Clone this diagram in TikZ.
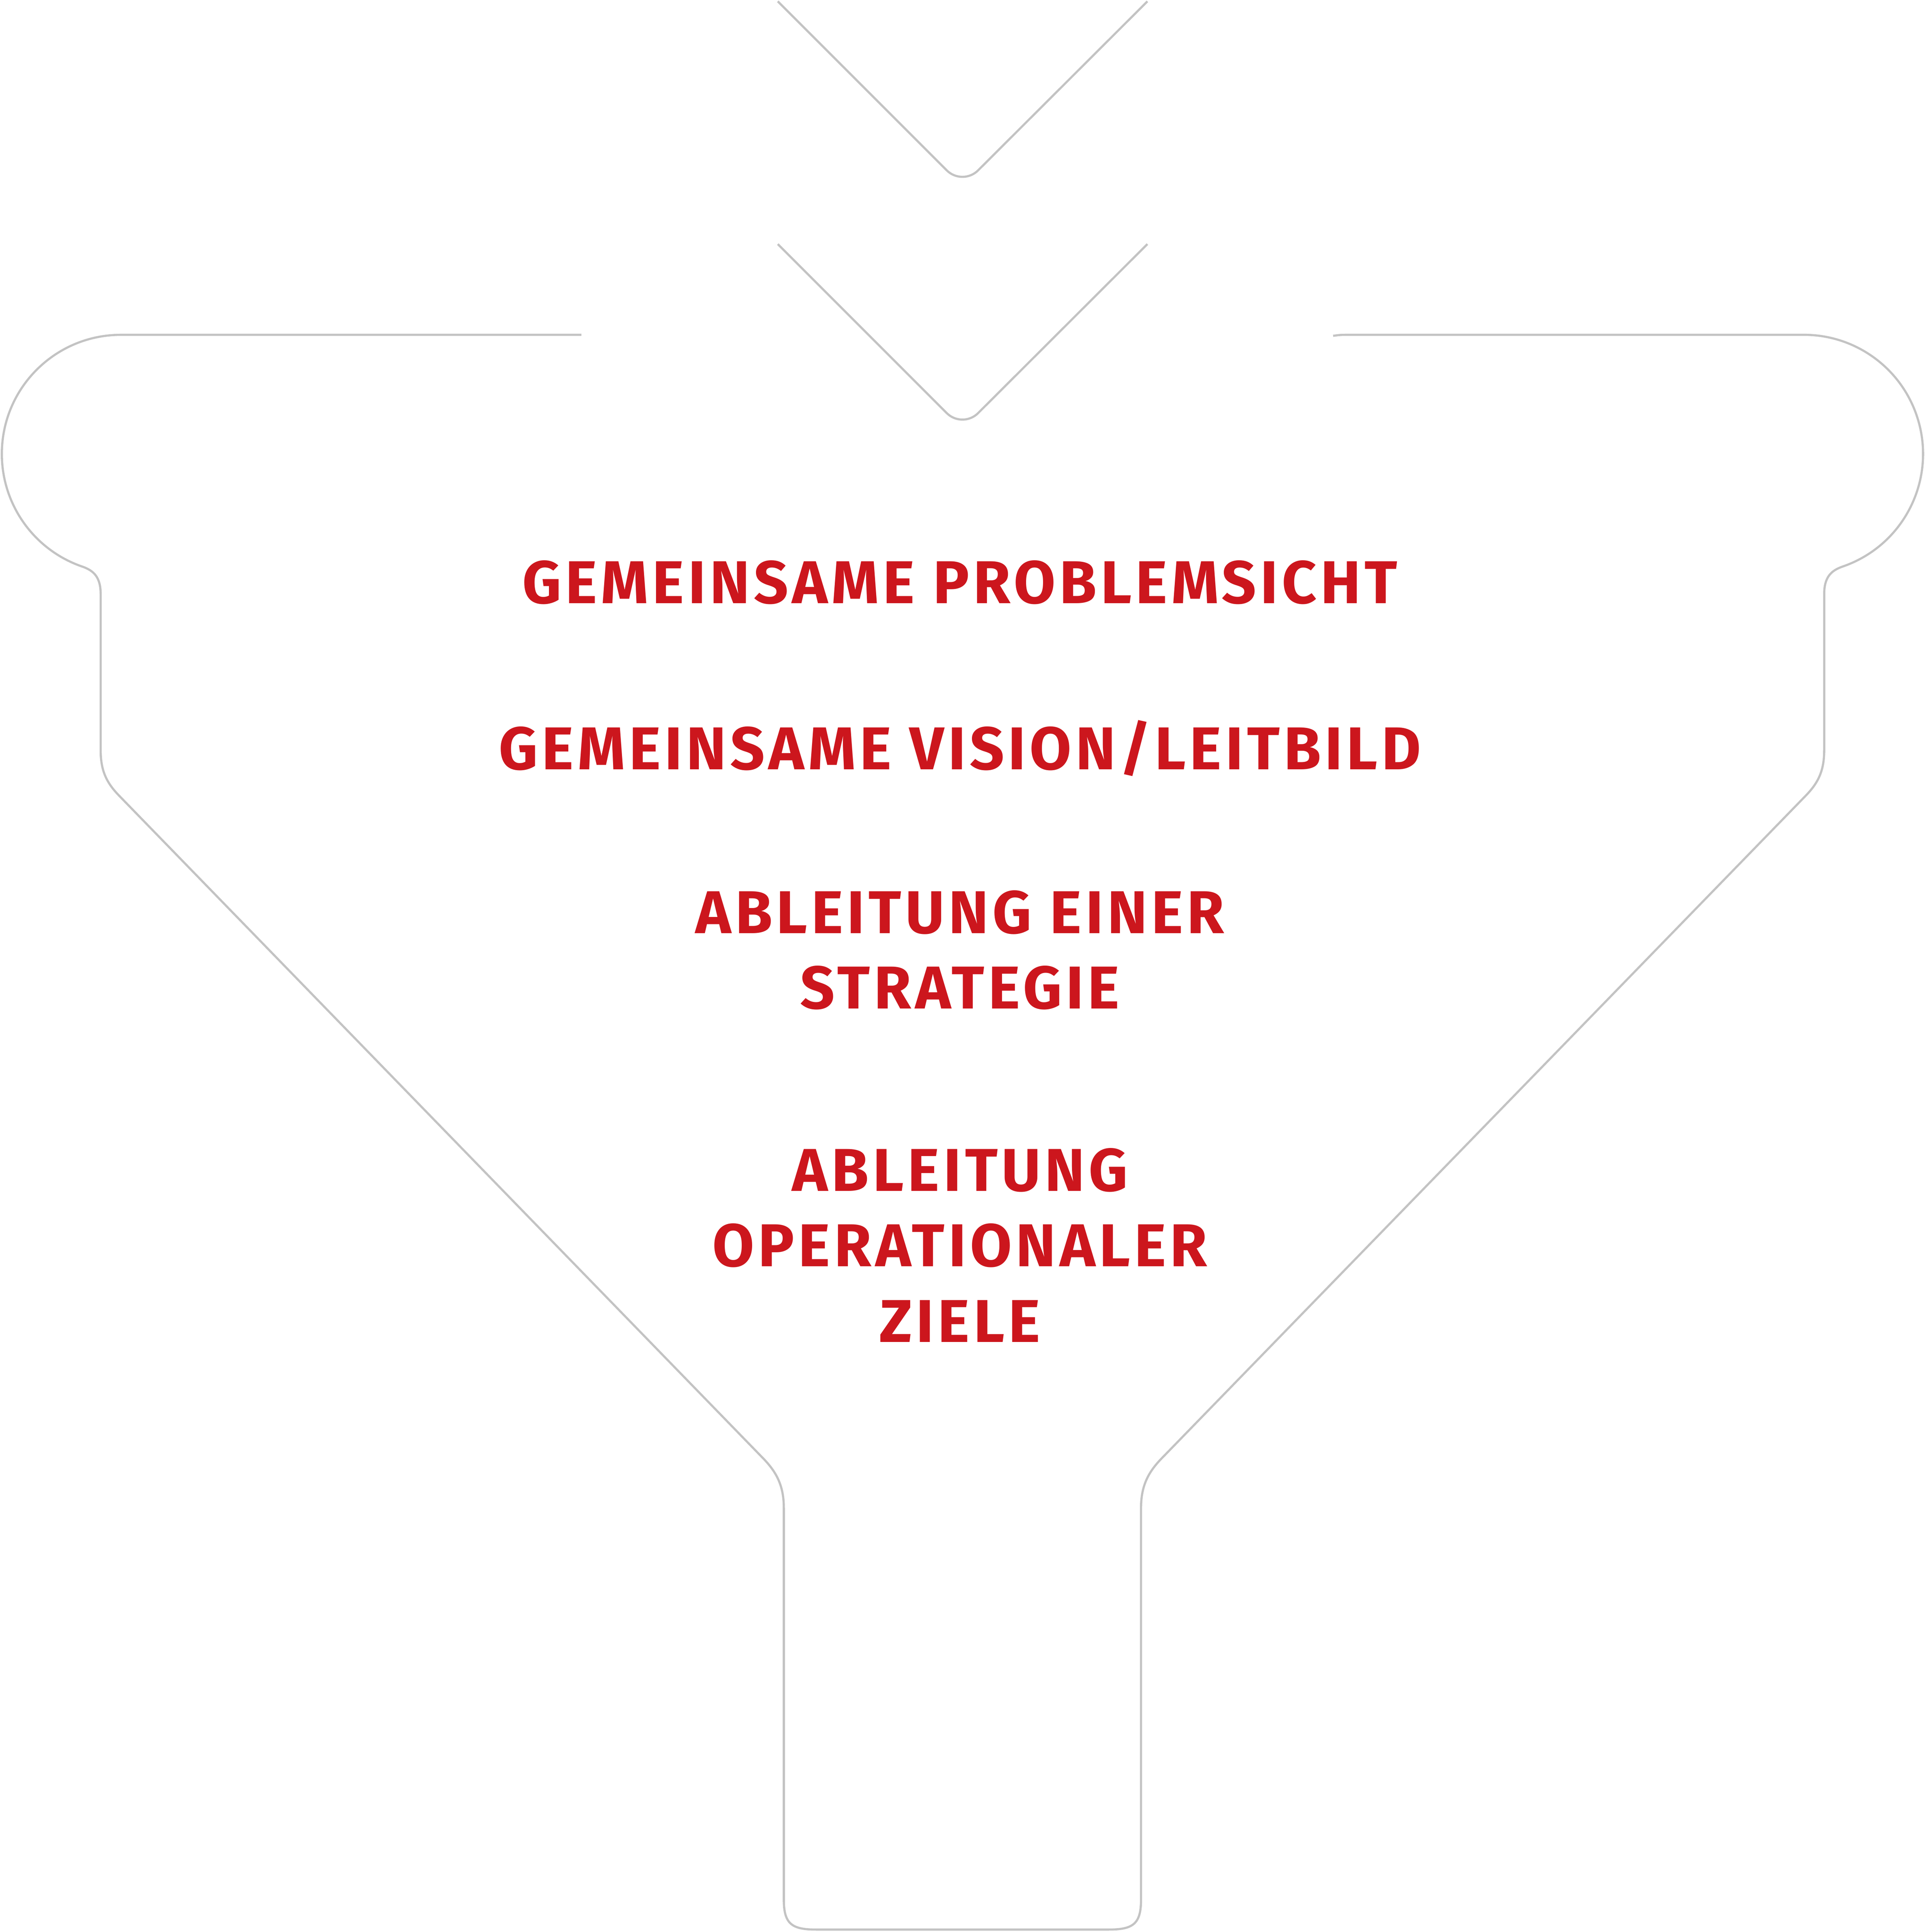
\documentclass[tikz,border=0pt]{standalone}
\usepackage{fontspec}
\setmainfont{Fira Sans}
\newfontfamily\stagefont{Fira Sans}[LetterSpace=6.5]
\definecolor{funnelgray}{RGB}{195,195,195}
\definecolor{stagered}{RGB}{204,22,29}
\begin{document}
\begin{tikzpicture}[x=0.01cm, y=-0.01cm,
    funnel/.style={draw=funnelgray, line width=0.5pt},
    stage/.style={text=stagered, anchor=base, inner sep=0pt, align=center,
      font=\stagefont\bfseries\fontsize{14}{17.5}\selectfont}]
  \useasboundingbox (0,0) rectangle (1568,1573.5); % Page frame

  % Two chevrons pointing down into the funnel
  \foreach \dy in {0,197.7} {
    \draw[funnel, rounded corners=0.18cm] (633.6,{1.1+\dy}) -- (784,{151.5+\dy}) -- (934.7,{1.1+\dy});
  }

  % Funnel outline, open at the top between the two shoulders
  \draw[funnel] (473.6,272.7) -- (98.5,272.7)
    arc[start angle=270, end angle=109, radius=97] % Left lobe
    .. controls (76.4,464.7) and (82,470) .. (82,484) -- (82,611)
    .. controls (82,628) and (87,637.7) .. (97,648) -- (620,1186) % Left slope
    .. controls (631,1197) and (638.5,1208) .. (638.5,1228) -- (638.5,1547)
    .. controls (638.5,1567) and (645,1571.5) .. (665,1571.5) -- (903,1571.5) % Spout
    .. controls (923,1571.5) and (929.5,1567) .. (929.5,1547) -- (929.5,1228)
    .. controls (929.5,1208) and (937,1197) .. (948,1186) -- (1471,648) % Right slope
    .. controls (1481,637.7) and (1486,628) .. (1486,611) -- (1486,484)
    .. controls (1486,470) and (1491.6,464.7) .. (1501.1,461.4)
    arc[start angle=71, end angle=-90, radius=97] % Right lobe
    -- (1099,272.7) .. controls (1092,272.7) .. (1086,273.5);

  % Stages from top to bottom (base = baseline of the last line)
  \node[stage] (problem) at (782,491.5) {GEMEINSAME PROBLEMSICHT};
  \node[stage] (vision) at (782,626.8) {GEMEINSAME VISION/LEITBILD};
  \node[stage] (strategie) at (782,821.6) {ABLEITUNG EINER\\STRATEGIE};
  \node[stage] (ziele) at (782,1093) {ABLEITUNG\\OPERATIONALER\\ZIELE};
\end{tikzpicture}
\end{document}
